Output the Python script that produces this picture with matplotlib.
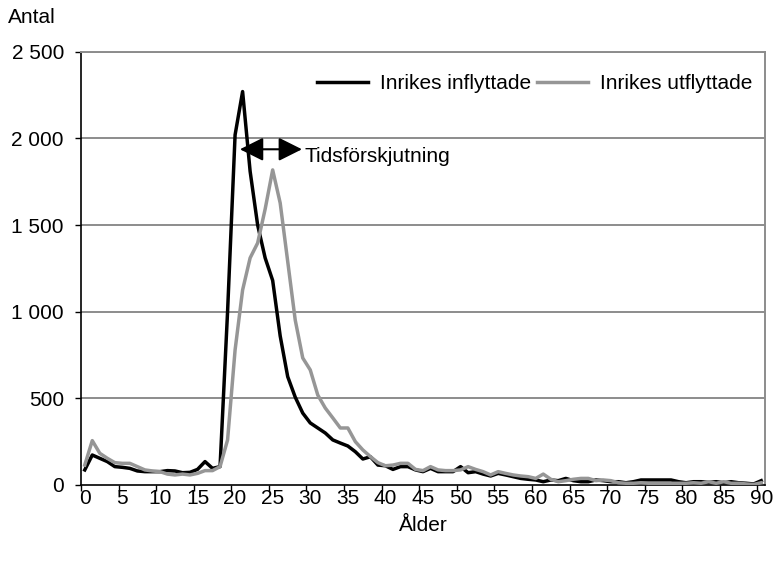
import matplotlib
matplotlib.use("Agg")
import matplotlib.pyplot as plt
import numpy as np

plt.rcParams['font.family'] = ['Liberation Sans', 'DejaVu Sans']

ages = list(range(0, 91))

inflyttade = [
    87, 173, 154, 135, 106, 102, 96, 81, 77, 77,
    77, 83, 81, 71, 73, 90, 135, 96, 106, 1000,
    2020, 2270, 1810, 1500, 1310, 1180, 860, 625, 507, 415,
    358, 329, 300, 260, 242, 225, 192, 150, 163, 115,
    111, 90, 106, 106, 87, 77, 96, 77, 77, 77,
    106, 71, 77, 63, 52, 67, 58, 48, 38, 33,
    29, 19, 29, 25, 38, 25, 19, 19, 29, 25,
    19, 19, 13, 19, 29, 29, 29, 29, 29, 19,
    13, 19, 19, 15, 19, 13, 19, 13, 10, 6,
    25,
]

utflyttade = [
    115, 256, 183, 154, 129, 125, 125, 106, 87, 81,
    77, 63, 58, 63, 58, 67, 83, 83, 106, 260,
    779, 1125, 1310, 1396, 1592, 1818, 1627, 1290, 952, 733,
    664, 519, 444, 387, 329, 329, 250, 202, 164, 129,
    111, 115, 125, 125, 90, 83, 106, 87, 83, 83,
    87, 106, 90, 77, 58, 77, 67, 58, 52, 48,
    38, 63, 33, 19, 25, 33, 38, 38, 25, 29,
    25, 13, 10, 10, 13, 10, 10, 10, 10, 10,
    10, 13, 10, 19, 10, 19, 10, 10, 6, 3,
    13,
]

series_labels = ["Inrikes inflyttade", "Inrikes utflyttade"]
x_ticks = list(range(0, 91, 5))
y_ticks = [0, 500, 1000, 1500, 2000, 2500]
y_ticklabels = ["0", "500", "1 000", "1 500", "2 000", "2 500"]

W, H = 778, 561
fig = plt.figure(figsize=(W / 100, H / 100), dpi=100)
ax = fig.add_axes([81 / W, 1 - 485 / H, (765 - 81) / W, (485 - 51.7) / H])

grid_color = '#8c8c8c'
for yv in y_ticks[1:]:
    ax.axhline(yv, color=grid_color, lw=1.4, zorder=1)

ax.plot(ages, inflyttade, color='black', lw=2.5, label=series_labels[0], zorder=3,
        solid_joinstyle='round')
ax.plot(ages, utflyttade, color='#969696', lw=2.5, label=series_labels[1], zorder=4,
        solid_joinstyle='round')

ax.set_xlim(-0.5, 90.5)
ax.set_ylim(0, 2500)

ax.set_xticks(x_ticks)
ax.set_xticklabels([str(v) for v in x_ticks], fontsize=15)
ax.set_xticks(np.arange(-0.5, 90, 5), minor=True)
ax.tick_params(axis='x', which='major', length=0, pad=3)
ax.tick_params(axis='x', which='minor', length=4.3, width=1.0, direction='out', color='black')

ax.set_yticks(y_ticks)
ax.set_yticklabels(y_ticklabels, fontsize=15)
ax.tick_params(axis='y', which='major', length=4.3, width=1.0, direction='out', pad=8, color='black')

for side in ['left', 'bottom']:
    ax.spines[side].set_color('black')
    ax.spines[side].set_linewidth(1.2)
for side in ['top', 'right']:
    ax.spines[side].set_color(grid_color)
    ax.spines[side].set_linewidth(1.4)

leg = ax.legend(ncol=2, loc='upper right', frameon=False, fontsize=15,
                bbox_to_anchor=(752 / W, 1 - 74 / H), bbox_transform=fig.transFigure,
                borderpad=0, borderaxespad=0, handlelength=2.45, handletextpad=0.55,
                columnspacing=0.3)

# Double-headed arrow and annotation
ax.annotate('', xy=(28.9, 1937), xytext=(20.64, 1937),
            arrowprops=dict(arrowstyle='<|-|>,head_length=0.72,head_width=0.36',
                            mutation_scale=20, color='black', lw=1.5,
                            shrinkA=0, shrinkB=0), zorder=5)
ax.text(29.2, 1893, 'Tidsförskjutning', fontsize=15, va='center', ha='left', zorder=5)

fig.text(8 / W, 1 - 23 / H, 'Antal', fontsize=15, va='baseline', ha='left')
fig.text(423 / W, 1 - 531 / H, 'Ålder', fontsize=15, va='baseline', ha='center')

fig.savefig('out.png', dpi=100)
